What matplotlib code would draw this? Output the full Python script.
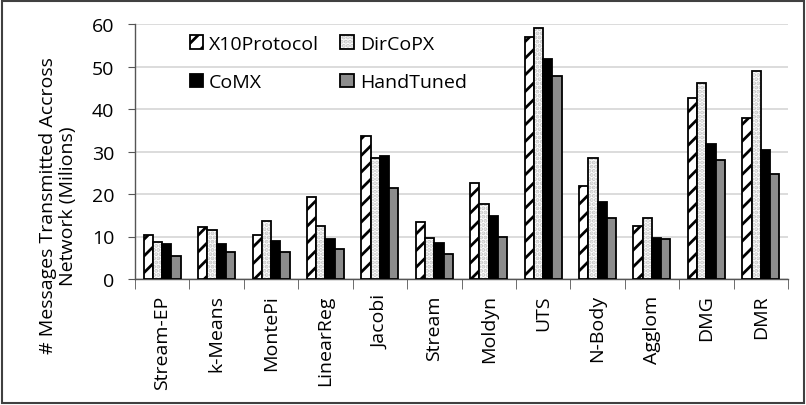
import matplotlib
matplotlib.use("Agg")
import matplotlib.pyplot as plt
import numpy as np
from matplotlib.patches import Patch, Rectangle

plt.rcParams.update({"font.family": ["Open Sans", "DejaVu Sans"], "hatch.linewidth": 2.0})

benchmarks = ["Stream-EP", "k-Means", "MontePi", "LinearReg", "Jacobi", "Stream",
              "Moldyn", "UTS", "N-Body", "Agglom", "DMG", "DMR"]
x10_protocol = [10.4, 12.2, 10.4, 19.2, 33.7, 13.3, 22.6, 56.9, 21.8, 12.5, 42.6, 37.8]
dir_copx = [8.8, 11.5, 13.7, 12.5, 28.4, 9.6, 17.6, 59.1, 28.5, 14.4, 46.2, 48.9]
comx = [8.2, 8.2, 8.9, 9.3, 28.9, 8.5, 14.8, 51.8, 18.2, 9.6, 31.8, 30.4]
hand_tuned = [5.5, 6.3, 6.3, 7.1, 21.4, 5.9, 10.0, 47.7, 14.4, 9.3, 28.1, 24.8]

W, H = 806, 406
fig = plt.figure(figsize=(W / 100, H / 100), dpi=100)
ax = fig.add_axes([135 / W, 1 - 280 / H, (788 - 135) / W, (280 - 25) / H])

x = np.arange(len(benchmarks))
w = 0.17
off = [-1.5 * w, -0.5 * w, 0.5 * w, 1.5 * w]
lw = 1.3

ax.bar(x + off[0], x10_protocol, w, color="white", edgecolor="black", hatch="//",
       linewidth=lw, zorder=3)
# dotted fill first, then the black outline on top
ax.bar(x + off[1], dir_copx, w, color="white", edgecolor="#c4c4c4", hatch="....",
       linewidth=0, zorder=3)
ax.bar(x + off[1], dir_copx, w, fill=False, edgecolor="black", linewidth=lw, zorder=4)
ax.bar(x + off[2], comx, w, color="black", edgecolor="black", linewidth=lw, zorder=3)
ax.bar(x + off[3], hand_tuned, w, color="#8c8c8c", edgecolor="black", linewidth=lw, zorder=3)

ax.set_xlim(-0.5, len(benchmarks) - 0.5)
ax.set_ylim(0, 60)
ax.set_yticks(range(0, 61, 10))
ax.tick_params(axis="y", labelsize=14, length=5, pad=10, color="#555555")
ax.set_xticks(x)
ax.set_xticklabels(benchmarks, rotation=90, fontsize=14)
ax.tick_params(axis="x", which="major", length=0, pad=11)
ax.set_xticks(np.arange(-0.5, len(benchmarks), 1.0), minor=True)
ax.tick_params(axis="x", which="minor", length=7, color="#555555")
ax.grid(axis="y", color="#d9d9d9", linewidth=1.3, zorder=0)
ax.set_axisbelow(True)
for s in ("top", "right"):
    ax.spines[s].set_visible(False)
for s in ("left", "bottom"):
    ax.spines[s].set_color("#555555")
    ax.spines[s].set_linewidth(1.0)

fig.text(58 / W, 1 - 206 / H, "# Messages Transmitted Accross\nNetwork (Milions)",
         rotation=90, ha="center", va="center", multialignment="center",
         fontsize=14, linespacing=1.1)

dot_fill = Patch(facecolor="white", edgecolor="#c4c4c4", hatch="....", linewidth=0)
dot_edge = Patch(fill=False, edgecolor="black", linewidth=lw)
handles = [
    Patch(facecolor="white", edgecolor="black", hatch="//", linewidth=lw),
    Patch(facecolor="black", edgecolor="black", linewidth=lw),
    (dot_fill, dot_edge),
    Patch(facecolor="#8c8c8c", edgecolor="black", linewidth=lw),
]
labels = ["X10Protocol", "CoMX", "DirCoPX", "HandTuned"]
ax.legend(handles, labels, ncol=2, loc="upper left",
          bbox_to_anchor=((176 - 135) / (788 - 135), 1.01),
          frameon=False, fontsize=14, handlelength=0.7, handleheight=0.7,
          handletextpad=0.3, columnspacing=1.1, labelspacing=1.05, borderpad=0.2)

fig.add_artist(Rectangle((0.003, 0.004), 0.994, 0.99, transform=fig.transFigure,
                         fill=False, edgecolor="#404040", linewidth=1.5))

fig.savefig("out.png", dpi=100)
